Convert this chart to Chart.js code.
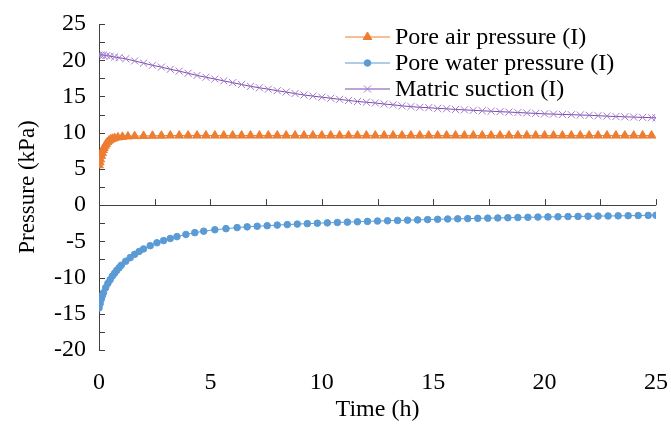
<!DOCTYPE html>
<html>
<head>
<meta charset="utf-8">
<script src="https://cdn.jsdelivr.net/npm/chart.js@4/dist/chart.umd.min.js"></script>
<style>
  html, body { margin: 0; padding: 0; background: #fff; }
  #wrap { width: 671px; height: 428px; }
</style>
</head>
<body>
<div id="wrap"><canvas id="pressureChart"></canvas></div>
<script>
// Pore air pressure (I)
const airTime = [0, 0.03, 0.06, 0.1, 0.14, 0.18, 0.22, 0.27, 0.32, 0.38, 0.45, 0.52, 0.6, 0.7, 0.85, 1.05, 1.3, 1.6, 2.0, 2.4,
  2.8, 3.2, 3.6, 4.0, 4.4, 4.8, 5.2, 5.6, 6.0, 6.4, 6.8, 7.2, 7.6, 8.0, 8.4, 8.8, 9.2, 9.6, 10.0, 10.4, 10.8, 11.2, 11.6,
  12.0, 12.4, 12.8, 13.2, 13.6, 14.0, 14.4, 14.8, 15.2, 15.6, 16.0, 16.4, 16.8, 17.2, 17.6, 18.0, 18.4, 18.8, 19.2, 19.6,
  20.0, 20.4, 20.8, 21.2, 21.6, 22.0, 22.4, 22.8, 23.2, 23.6, 24.0, 24.4, 24.8];
const airPressure = [5.5, 5.9, 6.3, 6.8, 7.2, 7.6, 7.9, 8.2, 8.45, 8.7, 8.9, 9.05, 9.15, 9.25, 9.35, 9.42, 9.48, 9.52, 9.55, 9.57,
  9.58, 9.6, 9.6, 9.6, 9.6, 9.6, 9.6, 9.6, 9.6, 9.6, 9.6, 9.6, 9.6, 9.6, 9.6, 9.6, 9.6, 9.6, 9.6, 9.6, 9.6, 9.6, 9.6,
  9.6, 9.6, 9.6, 9.6, 9.6, 9.6, 9.6, 9.6, 9.6, 9.6, 9.6, 9.6, 9.6, 9.6, 9.6, 9.6, 9.6, 9.6, 9.6, 9.6,
  9.6, 9.6, 9.6, 9.6, 9.6, 9.6, 9.6, 9.6, 9.6, 9.6, 9.6, 9.6, 9.6];

// Pore water pressure (I)
const waterTime = [0, 0.05, 0.1, 0.15, 0.2, 0.3, 0.4, 0.5, 0.6, 0.7, 0.8, 0.9, 1.0, 1.2, 1.4, 1.6, 1.8, 2.0, 2.3, 2.6, 2.9,
  3.2, 3.5, 3.9, 4.3, 4.7, 5.2, 5.7, 6.2, 6.65, 7.1, 7.55, 8.0, 8.45, 8.9, 9.35, 9.8, 10.25, 10.7, 11.15, 11.6, 12.05,
  12.5, 12.95, 13.4, 13.85, 14.3, 14.75, 15.2, 15.65, 16.1, 16.55, 17.0, 17.45, 17.9, 18.35, 18.8, 19.25, 19.7, 20.15,
  20.6, 21.05, 21.5, 21.95, 22.4, 22.85, 23.3, 23.75, 24.2, 24.65, 25.0];
const waterPressure = [-14.2, -13.6, -13.0, -12.5, -12.1, -11.4, -10.8, -10.3, -9.8, -9.4, -9.0, -8.65, -8.3, -7.75, -7.25,
  -6.8, -6.4, -6.05, -5.6, -5.2, -4.9, -4.6, -4.35, -4.05, -3.8, -3.6, -3.4, -3.25, -3.1, -3.0, -2.92, -2.84, -2.76,
  -2.69, -2.62, -2.56, -2.5, -2.45, -2.4, -2.35, -2.3, -2.25, -2.2, -2.16, -2.12, -2.08, -2.04, -2.0, -1.96, -1.92,
  -1.89, -1.86, -1.83, -1.8, -1.77, -1.74, -1.71, -1.68, -1.65, -1.63, -1.61, -1.58, -1.56, -1.54, -1.52, -1.5,
  -1.48, -1.46, -1.44, -1.42, -1.4];

// Matric suction (I)
const suctionTime = [0, 0.1, 0.2, 0.35, 0.5, 0.7, 0.9, 1.2, 1.6, 2.0, 2.4, 2.8, 3.2, 3.6, 4.0, 4.4, 4.8, 5.2, 5.6, 6.0,
  6.4, 6.8, 7.2, 7.6, 8.0, 8.4, 8.8, 9.2, 9.6, 10.0, 10.4, 10.8, 11.2, 11.6, 12.0, 12.4, 12.8, 13.2, 13.6, 14.0, 14.4,
  14.8, 15.2, 15.6, 16.0, 16.4, 16.8, 17.2, 17.6, 18.0, 18.4, 18.8, 19.2, 19.6, 20.0, 20.4, 20.8, 21.2, 21.6, 22.0,
  22.4, 22.8, 23.2, 23.6, 24.0, 24.4, 24.8, 25.0];
const matricSuction = [20.7, 20.72, 20.7, 20.65, 20.55, 20.45, 20.35, 20.2, 19.9, 19.6, 19.3, 19.05, 18.75, 18.5, 18.2,
  17.9, 17.65, 17.4, 17.15, 16.9, 16.65, 16.4, 16.2, 16.0, 15.8, 15.6, 15.4, 15.2, 15.05, 14.9, 14.75, 14.6, 14.45,
  14.3, 14.2, 14.1, 13.95, 13.85, 13.7, 13.6, 13.5, 13.45, 13.35, 13.3, 13.2, 13.15, 13.08, 13.02, 12.96, 12.9,
  12.84, 12.78, 12.72, 12.66, 12.6, 12.56, 12.52, 12.48, 12.44, 12.4, 12.34, 12.28, 12.23, 12.19, 12.15, 12.11,
  12.07, 12.05];

const seriesNames = ["Pore air pressure (I)", "Pore water pressure (I)", "Matric suction (I)"];

const serif = "'Liberation Serif', 'Times New Roman', serif";

function toPoints(times, values) {
  return times.map((t, i) => ({ x: t, y: values[i] }));
}

// axis lines drawn through x = 0 and y = 0, ticks pointing inward
const crossAxes = {
  id: "crossAxes",
  beforeDatasetsDraw(chart) {
    const { ctx, scales } = chart;
    const xs = scales.x;
    const ys = scales.y;
    const x0 = xs.getPixelForValue(0);
    const y0 = ys.getPixelForValue(0);
    ctx.save();
    ctx.strokeStyle = "#404040";
    ctx.lineWidth = 1;
    ctx.beginPath();
    ctx.moveTo(x0 + 0.5, ys.top);
    ctx.lineTo(x0 + 0.5, ys.bottom);
    ys.ticks.forEach((t) => {
      const py = Math.round(ys.getPixelForValue(t.value)) + 0.5;
      ctx.moveTo(x0, py);
      ctx.lineTo(x0 + 6, py);
    });
    ctx.moveTo(xs.left, Math.round(y0) + 0.5);
    ctx.lineTo(xs.right, Math.round(y0) + 0.5);
    xs.ticks.forEach((t) => {
      const px = Math.round(xs.getPixelForValue(t.value)) + 0.5;
      ctx.moveTo(px, y0);
      ctx.lineTo(px, y0 - 6);
    });
    ctx.stroke();
    ctx.restore();
  },
};

// legend in the upper right of the plot
const insideLegend = {
  id: "insideLegend",
  afterDraw(chart) {
    const { ctx } = chart;
    const startX = 345;
    const lineLen = 45;
    const rowY = [37, 63, 89];
    ctx.save();
    chart.data.datasets.forEach((ds, i) => {
      const yy = rowY[i];
      ctx.strokeStyle = ds.borderColor;
      ctx.lineWidth = 1;
      ctx.beginPath();
      ctx.moveTo(startX, yy);
      ctx.lineTo(startX + lineLen, yy);
      ctx.stroke();
      ctx.fillStyle = ds.pointBackgroundColor;
      ctx.strokeStyle = ds.pointBorderColor;
      Chart.helpers.drawPoint(ctx, {
        pointStyle: ds.pointStyle,
        radius: ds.pointRadius,
        rotation: 0,
        borderWidth: 1,
      }, startX + lineLen / 2, yy);
      ctx.fillStyle = "#000";
      ctx.font = "24px " + serif;
      ctx.textBaseline = "middle";
      ctx.textAlign = "left";
      ctx.fillText(seriesNames[i], startX + lineLen + 5, yy + 1);
    });
    ctx.restore();
  },
};

const config = {
  type: "line",
  data: {
    datasets: [
      {
        label: seriesNames[0],
        data: toPoints(airTime, airPressure),
        borderColor: "#ED7D31",
        borderWidth: 1,
        pointStyle: "triangle",
        pointRadius: 5,
        pointBackgroundColor: "#ED7D31",
        pointBorderColor: "#ED7D31",
        pointBorderWidth: 1,
      },
      {
        label: seriesNames[1],
        data: toPoints(waterTime, waterPressure),
        borderColor: "#5B9BD5",
        borderWidth: 1,
        pointStyle: "circle",
        pointRadius: 3.3,
        pointBackgroundColor: "#5B9BD5",
        pointBorderColor: "#5B9BD5",
        pointBorderWidth: 1,
      },
      {
        label: seriesNames[2],
        data: toPoints(suctionTime, matricSuction),
        borderColor: "#7B47AE",
        borderWidth: 1,
        pointStyle: "crossRot",
        pointRadius: 5,
        pointBackgroundColor: "#A07ACB",
        pointBorderColor: "#A07ACB",
        pointBorderWidth: 1,
      },
    ],
  },
  options: {
    responsive: true,
    maintainAspectRatio: false,
    animation: false,
    layout: { padding: { left: 0, right: 15, top: 24, bottom: 0 } },
    scales: {
      x: {
        type: "linear",
        min: 0,
        max: 25,
        grid: { display: false },
        border: { display: false },
        ticks: {
          stepSize: 2.5,
          autoSkip: false,
          maxRotation: 0,
          padding: 10,
          color: "#000",
          font: { family: serif, size: 24 },
          callback: (v) => (v % 5 === 0 ? v : ""),
        },
        title: {
          display: true,
          text: "Time (h)",
          color: "#000",
          font: { family: serif, size: 24 },
          padding: { top: 0, bottom: 4 },
        },
        afterFit: (s) => {
          s.height = 78;
          s.paddingLeft = 0;
          s.paddingRight = 0;
        },
      },
      y: {
        min: -20,
        max: 25,
        grid: { display: false },
        border: { display: false },
        ticks: {
          stepSize: 2.5,
          autoSkip: false,
          padding: 5,
          color: "#000",
          font: { family: serif, size: 24 },
          callback: (v) => (v % 5 === 0 ? v : ""),
        },
        title: {
          display: true,
          text: "Pressure (kPa)",
          color: "#000",
          font: { family: serif, size: 23 },
          padding: { top: 14, bottom: 0 },
        },
        afterFit: (s) => {
          s.width = 99;
          s.paddingTop = 0;
          s.paddingBottom = 0;
        },
      },
    },
    plugins: {
      legend: { display: false },
      tooltip: { enabled: false },
    },
  },
  plugins: [crossAxes, insideLegend],
};

const pressureChart = new Chart(document.getElementById("pressureChart"), config);
</script>
</body>
</html>
